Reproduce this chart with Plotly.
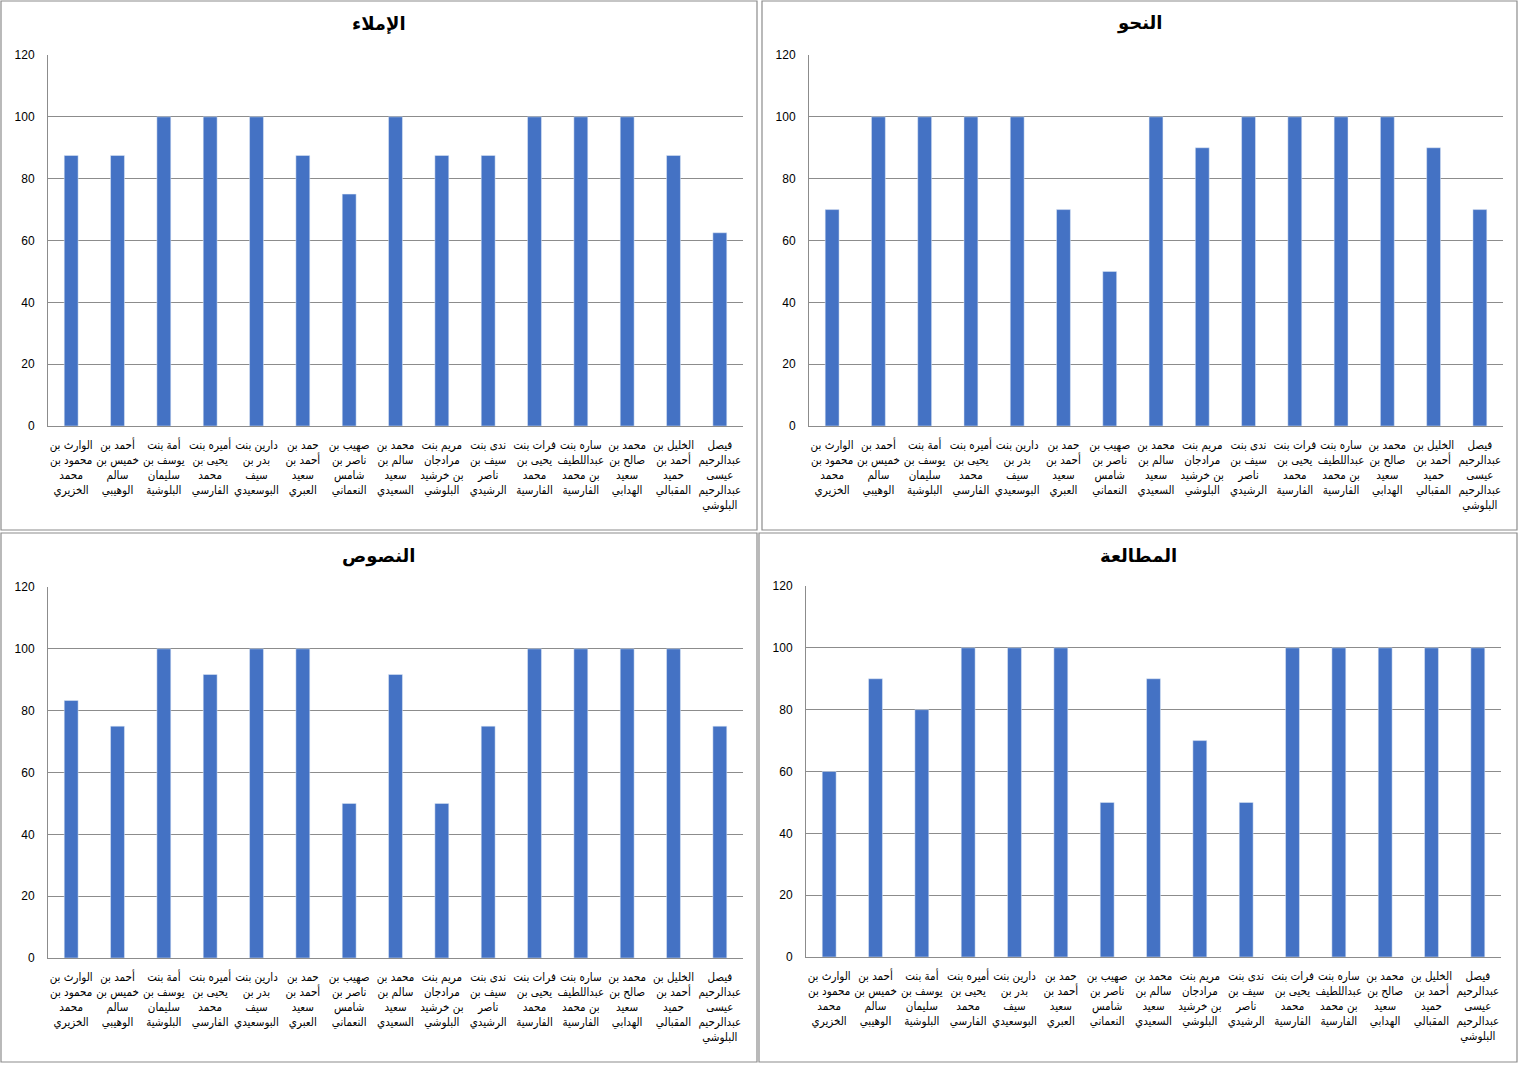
import plotly.graph_objects as go

W, H = 1522, 1066

names = [
    "الوارث بن<br>محمود بن<br>محمد<br>الخزيري",
    "أحمد بن<br>خميس بن<br>سالم<br>الوهيبي",
    "أمة بنت<br>يوسف بن<br>سليمان<br>البلوشية",
    "أميره بنت<br>يحيى بن<br>محمد<br>الفارسي",
    "دارين بنت<br>بدر بن<br>سيف<br>البوسعيدي",
    "حمد بن<br>أحمد بن<br>سعيد<br>العبري",
    "صهيب بن<br>ناصر بن<br>شامس<br>النعماني",
    "محمد بن<br>سالم بن<br>سعيد<br>السعيدي",
    "مريم بنت<br>مرادجان<br>بن خرشيد<br>البلوشي",
    "ندى بنت<br>سيف بن<br>ناصر<br>الرشيدي",
    "فرات بنت<br>يحيى بن<br>محمد<br>الفارسية",
    "ساره بنت<br>عبداللطيف<br>بن محمد<br>الفارسية",
    "محمد بن<br>صالح بن<br>سعيد<br>الهدابي",
    "الخليل بن<br>أحمد بن<br>حميد<br>المقبالي",
    "فيصل<br>عبدالرحيم<br>عيسى<br>عبدالرحيم<br>البلوشي",
]

imla = [87.5, 87.5, 100, 100, 100, 87.5, 75, 100, 87.5, 87.5, 100, 100, 100, 87.5, 62.5]
nahw = [70, 100, 100, 100, 100, 70, 50, 100, 90, 100, 100, 100, 100, 90, 70]
nusus = [83.3, 75, 100, 91.7, 100, 100, 50, 91.7, 50, 75, 100, 100, 100, 100, 75]
mutalaa = [60, 90, 80, 100, 100, 100, 50, 90, 70, 50, 100, 100, 100, 100, 100]

titles = ["الإملاء", "النحو", "النصوص", "المطالعة"]
series = [imla, nahw, nusus, mutalaa]
y_ticks = [0, 20, 40, 60, 80, 100, 120]

# pixel geometry (left, right, top, bottom)
panels = [(1, 757, 1, 530), (762, 1517, 1, 530), (1, 757, 533, 1062), (759, 1517, 533, 1062)]
plots = [(48, 743, 55, 426), (809, 1503, 55, 426), (48, 743, 587, 958), (806, 1501, 586, 957)]

def px(x):
    return x / W

def py(y):
    return 1 - y / H

BAR = "#4472C4"
GRID = "#8C8C8C"
FONT = "Arial, DejaVu Sans, sans-serif"
LABEL_FONT = "DejaVu Sans Condensed, DejaVu Sans, sans-serif"

fig = go.Figure()
shapes = []
annotations = []
for i, (vals, title) in enumerate(zip(series, titles)):
    n = "" if i == 0 else str(i + 1)
    fig.add_trace(go.Bar(x=names, y=vals, marker_color=BAR, xaxis="x" + n, yaxis="y" + n,
                         showlegend=False, hoverinfo="x+y"))
    l, r, t, b = plots[i]
    fig.update_layout(**{
        "xaxis" + n: dict(domain=[px(l), px(r)], anchor="y" + n, showline=True, linecolor=GRID,
                          linewidth=1, showgrid=False, ticks="", tickangle=0, automargin=False,
                          ticklabelstandoff=8,
                          tickfont=dict(size=11.5, color="#000", family=LABEL_FONT), fixedrange=True),
        "yaxis" + n: dict(domain=[py(b), py(t)], anchor="x" + n, range=[0, 120], tickvals=y_ticks,
                          showline=True, linecolor=GRID, linewidth=1, showgrid=True,
                          gridcolor=GRID, gridwidth=1, zeroline=False, ticks="", automargin=False,
                          ticklabelstandoff=10,
                          tickfont=dict(size=12, color="#000", family=FONT), fixedrange=True),
    })
    pl, pr, pt, pb = panels[i]
    shapes.append(dict(type="rect", xref="paper", yref="paper", x0=px(pl), x1=px(pr),
                       y0=py(pb), y1=py(pt), line=dict(color="#8C8C8C", width=1.2),
                       fillcolor="rgba(0,0,0,0)", layer="below"))
    annotations.append(dict(text="<b>" + title + "</b>", xref="paper", yref="paper",
                            x=px((pl + pr) / 2), y=py(pt + 23), xanchor="center", yanchor="middle",
                            showarrow=False, font=dict(size=18, color="#000", family=FONT)))

fig.update_layout(width=W, height=H, margin=dict(l=0, r=0, t=0, b=0, autoexpand=False),
                  paper_bgcolor="white", plot_bgcolor="white", bargap=0.7,
                  shapes=shapes, annotations=annotations)

post = """
var s = document.documentElement.style; s.margin='0'; s.padding='0'; s.overflow='hidden';
var b = document.body.style; b.margin='0'; b.padding='0'; b.overflow='hidden';
"""
fig.write_html("out.html", post_script=post, config={"displayModeBar": False})
